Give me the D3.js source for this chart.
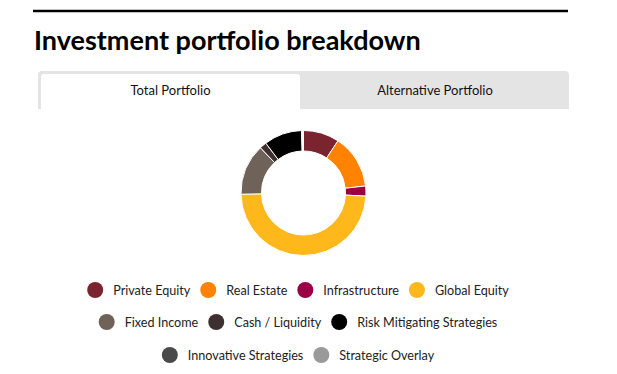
<!DOCTYPE html>
<html><head><meta charset="utf-8">
<script src="https://cdn.jsdelivr.net/npm/d3@7"></script>
<style>
html,body{margin:0;padding:0;background:#fff;}
svg{display:block;}
</style></head>
<body><svg id="c" width="617" height="374"></svg>
<script>
const title = "Investment portfolio breakdown";
const tabs = ["Total Portfolio", "Alternative Portfolio"];
const categories = ["Private Equity","Real Estate","Infrastructure","Global Equity","Fixed Income","Cash / Liquidity","Risk Mitigating Strategies","Innovative Strategies","Strategic Overlay"];
const values = [9.3, 13.9, 2.6, 48.9, 13.2, 1.8, 9.8, 0.2, 0.3];
const colors = ["#7a2430","#ff8200","#9b0046","#ffb81c","#6e6259","#3e3030","#000000","#4a4a4a","#9a9a9a"];
const legendRows = [4,3,2];

const svg = d3.select("#c");
const FONT = "Lato, 'Open Sans', sans-serif";

// top rule
svg.append("line").attr("x1",33).attr("x2",568).attr("y1",11).attr("y2",11)
  .attr("stroke","#000").attr("stroke-width",2.5);
svg.append("text").attr("x",34).attr("y",50).text(title)
  .attr("font-family",FONT).attr("font-weight",700).attr("font-size",27).attr("fill","#000");

// tabs
svg.append("path").attr("d", "M38,109 L38,75 Q38,71 42,71 L565,71 Q569,71 569,75 L569,109 Z").attr("fill","#e4e4e4");
svg.append("path").attr("d", "M41,109 L41,77 Q41,74 44,74 L297,74 Q300,74 300,77 L300,109 Z").attr("fill","#fff");
svg.selectAll("text.tab").data(tabs).join("text").attr("class","tab")
  .attr("x",(d,i)=> i===0 ? 170.5 : 435).attr("y",95).attr("text-anchor","middle")
  .attr("font-family",FONT).attr("font-size",13).attr("fill","#111").text(d=>d);

// donut
const cx=303.5, cy=193, R=62.5, r=42;
const pie = d3.pie().sort(null).value(d=>d.v);
const data = categories.map((c,i)=>({c, v:values[i], col:colors[i]}));
const arc = d3.arc().innerRadius(r).outerRadius(R);
svg.append("g").attr("transform",`translate(${cx},${cy})`)
  .selectAll("path").data(pie(data)).join("path")
  .attr("d",arc).attr("fill",d=>d.data.col).attr("stroke","#fff").attr("stroke-width",1);

// legend
const lg = svg.append("g");
const rowY = [290, 322, 355];
let idx = 0;
const centerX = 298;
legendRows.forEach((n,ri)=>{
  const items = data.slice(idx, idx+n); idx += n;
  const g = lg.append("g");
  let x = 0;
  items.forEach(it=>{
    const ig = g.append("g").attr("transform",`translate(${x},0)`);
    ig.append("circle").attr("cx",8).attr("cy",0).attr("r",8).attr("fill",it.col);
    const t = ig.append("text").attr("x",26).attr("y",4.5).text(it.c)
      .attr("font-family",FONT).attr("font-size",12.6).attr("fill","#222");
    const w = t.node().getComputedTextLength();
    x += 26 + w + 10;
  });
  const total = x - 10;
  g.attr("transform",`translate(${centerX - total/2},${rowY[ri]})`);
});
</script></body></html>
